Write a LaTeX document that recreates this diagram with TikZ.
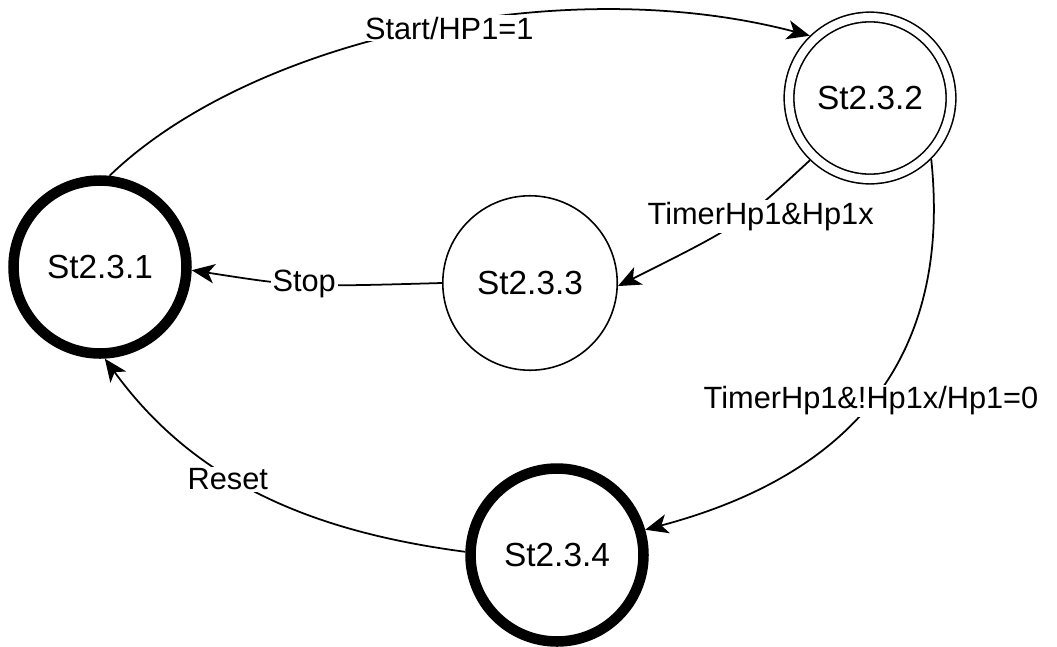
\documentclass[tikz,border=0pt]{standalone}
\usepackage{fontspec}
\setmainfont{Liberation Sans}
\usetikzlibrary{arrows.meta}

\begin{document}
\begin{tikzpicture}[x=0.02cm, y=-0.02cm,
  st/.style={circle, draw, line width=0.9pt, minimum size=3.49cm, inner sep=0pt,
             font=\fontsize{19}{22}\selectfont},
  stbold/.style={st, line width=6pt, minimum size=3.46cm},
  stfinal/.style={st, double, double distance=4.6pt, minimum size=3.24cm, outer sep=3.2pt},
  arr/.style={-{Stealth[length=13pt, width=11pt, inset=3.5pt]}, line width=1pt},
  lbl/.style={fill=white, inner sep=1pt, font=\fontsize{17.5}{20}\selectfont}]
\useasboundingbox (0,0) rectangle (1057,646);
\node[stbold] (s1) at (100,267) {St2.3.1};
\node[stfinal] (s2) at (870,98) {St2.3.2};
\node[st] (s3) at (530,283) {St2.3.3};
\node[stbold] (s4) at (557,555) {St2.3.4};
\draw[arr] (s1.84) .. controls (250,40) and (560,-30) .. (s2.134)
  node[lbl, pos=0.54, yshift=-0.08cm] {Start/HP1=1};
\draw[arr] (s2.226) .. controls (740,225) .. (s3.-2)
  node[lbl, pos=0.3, yshift=-0.24cm] {TimerHp1\&Hp1x};
\draw[arr] (s3.west) .. controls (300,287) .. (s1.-2)
  node[lbl, pos=0.5] {Stop};
\draw[arr] (s2.-45) .. controls (950,340) and (870,470) .. (s4.16)
  node[lbl, pos=0.53] {TimerHp1\&!Hp1x/Hp1=0};
\draw[arr] (s4.178) .. controls (315,532) and (196,484) .. (s1.-87)
  node[lbl, pos=0.6, yshift=-0.08cm] {Reset};
\end{tikzpicture}
\end{document}
